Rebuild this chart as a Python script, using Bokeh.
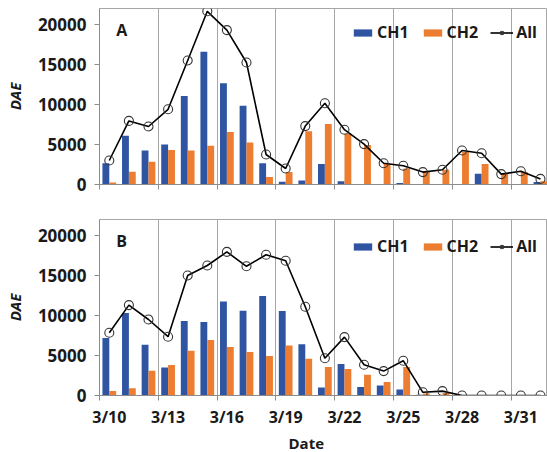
from bokeh.plotting import figure
from bokeh.models import FixedTicker, Label, NumeralTickFormatter, ColumnDataSource, Title
from bokeh.layouts import column
from bokeh.transform import dodge
from bokeh.embed import file_html
from bokeh.resources import INLINE

# ---------------- data ----------------
dates = ["3/10", "3/11", "3/12", "3/13", "3/14", "3/15", "3/16", "3/17", "3/18", "3/19",
         "3/20", "3/21", "3/22", "3/23", "3/24", "3/25", "3/26", "3/27", "3/28", "3/29",
         "3/30", "3/31", "4/1"]

a_ch1 = [2650, 6100, 4250, 5000, 11050, 16600, 12650, 9850, 2650, 350, 500, 2550,
         400, 0, 0, 200, 0, 0, 0, 1350, 0, 0, 300]
a_ch2 = [250, 1600, 2850, 4300, 4250, 4850, 6550, 5250, 950, 1550, 6650, 7550,
         6350, 4950, 2600, 2000, 1550, 1850, 4050, 2550, 1300, 1550, 400]
a_all = [3000, 7950, 7250, 9400, 15500, 21650, 19300, 15250, 3750, 2000, 7300, 10150,
         6850, 5050, 2650, 2350, 1550, 1850, 4250, 3900, 1300, 1650, 700]

b_ch1 = [7200, 10300, 6350, 3500, 9300, 9200, 11750, 10600, 12450, 10550, 6400, 1000,
         3950, 1050, 1250, 750, 100, 50, 0, 0, 0, 0, 0]
b_ch2 = [550, 900, 3100, 3800, 5600, 6950, 6050, 5450, 4950, 6250, 4600, 3550,
         3300, 2600, 1700, 3550, 250, 300, 0, 0, 0, 0, 0]
b_all = [7850, 11300, 9500, 7350, 15000, 16250, 17950, 16150, 17600, 16850, 11100, 4650,
         7300, 3850, 3050, 4350, 400, 550, 0, 0, 0, 0, 0]

y_ticks = [0, 5000, 10000, 15000, 20000]
label_every = 3

# ---------------- style ----------------
BLUE = "#2E54A2"
ORANGE = "#ED7D31"
FONT = "Open Sans"
GRAY = "#A6A6A6"
AXIS = "#8C8C8C"
TXT = "#1a1a1a"


def make_panel(tag, ch1, ch2, tot, height, top, bottom, leg_y, last):
    n = len(dates)
    src = ColumnDataSource(dict(x=[i + 0.5 for i in range(n)], ch1=ch1, ch2=ch2, tot=tot))
    p = figure(width=547, height=height, x_range=(0, 22.86), y_range=(0, 22000),
               output_backend="svg", toolbar_location=None,
               min_border_left=99, min_border_right=0,
               min_border_top=top, min_border_bottom=bottom)
    p.vbar(x=dodge("x", -0.175), top="ch1", width=0.35, source=src,
           fill_color=BLUE, line_color=None, legend_label="CH1")
    p.vbar(x=dodge("x", 0.175), top="ch2", width=0.35, source=src,
           fill_color=ORANGE, line_color=None, legend_label="CH2")
    p.line("x", "tot", source=src, line_color="black", line_width=1.6, legend_label="All")
    p.scatter("x", "tot", source=src, marker="circle", size=9, fill_color=None,
              line_color="#333333", line_width=1.1, legend_label="All")

    # x axis
    bounds = [i for i in range(0, n, label_every)]
    if last:
        major = [i + 0.5 for i in range(0, n, label_every)]
        p.xaxis.ticker = FixedTicker(ticks=major, minor_ticks=bounds)
        p.xaxis.major_label_overrides = {i + 0.5: dates[i] for i in range(0, n, label_every)}
        p.xaxis.major_label_text_font = FONT
        p.xaxis.major_label_text_font_style = "bold"
        p.xaxis.major_label_text_font_size = "16px"
        p.xaxis.major_label_text_color = TXT
        p.xaxis.major_label_standoff = 5
        p.add_layout(Title(text="Date", align="left", offset=189, standoff=0,
                           text_font=FONT, text_font_style="bold", text_font_size="15px",
                           text_color=TXT), "below")
    else:
        p.xaxis.ticker = FixedTicker(ticks=[], minor_ticks=bounds)
    p.xaxis.major_tick_out = 0
    p.xaxis.major_tick_in = 0
    p.xaxis.major_tick_line_color = None
    p.xaxis.minor_tick_line_color = AXIS
    p.xaxis.minor_tick_in = 0
    p.xaxis.minor_tick_out = 5
    p.xaxis.axis_line_color = AXIS

    # y axis
    p.yaxis.ticker = FixedTicker(ticks=y_ticks)
    p.yaxis.formatter = NumeralTickFormatter(format="0")
    p.yaxis.major_tick_in = 0
    p.yaxis.major_tick_out = 5
    p.yaxis.major_tick_line_color = AXIS
    p.yaxis.minor_tick_line_color = None
    p.yaxis.axis_line_color = AXIS
    p.yaxis.major_label_text_font = FONT
    p.yaxis.major_label_text_font_style = "bold"
    p.yaxis.major_label_text_font_size = "17px"
    p.yaxis.major_label_text_color = TXT
    p.yaxis.major_label_standoff = 8
    p.yaxis.axis_label = "DAE"
    p.yaxis.axis_label_text_font = FONT
    p.yaxis.axis_label_text_font_style = "bold italic"
    p.yaxis.axis_label_text_font_size = "15px"
    p.yaxis.axis_label_standoff = 10
    p.yaxis.axis_label_text_color = TXT

    # grids
    p.xgrid.ticker = FixedTicker(ticks=bounds)
    p.xgrid.grid_line_color = GRAY
    p.ygrid.grid_line_color = None
    p.outline_line_color = GRAY

    # legend
    lg = p.legend[0]
    lg.orientation = "horizontal"
    lg.location = (252, leg_y)
    lg.margin = 0
    lg.padding = 0
    lg.spacing = 12
    lg.label_standoff = 3
    lg.glyph_width = 23
    lg.glyph_height = 9
    lg.border_line_color = None
    lg.background_fill_alpha = 0
    lg.label_text_font = FONT
    lg.label_text_font_style = "bold"
    lg.label_text_font_size = "16px"
    lg.label_text_color = TXT

    p.add_layout(Label(x=0.85, y=18000, text=tag, text_font=FONT, text_font_style="bold",
                       text_font_size="16px", text_color=TXT, text_baseline="bottom"))
    return p


pa = make_panel("A", a_ch1, a_ch2, a_all, 202, 8, 18, 141, False)
pb = make_panel("B", b_ch1, b_ch2, b_all, 250, 17, 0, 138, True)

layout = column(pa, pb, spacing=0)
open("out.html", "w").write(file_html(layout, INLINE))
